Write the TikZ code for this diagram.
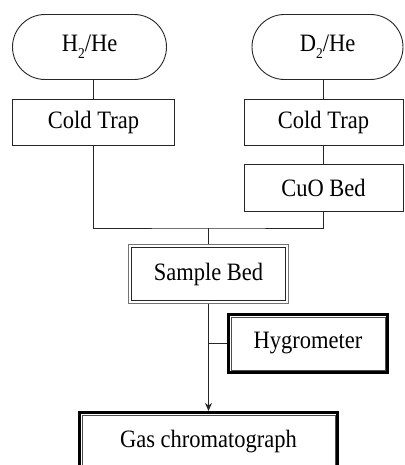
\documentclass[tikz,border=0pt]{standalone}
\usepackage{fontspec}
\setmainfont{Liberation Serif}
\usetikzlibrary{arrows.meta}
\newcommand{\tx}[1]{\scalebox{0.9}[1]{#1}}
\newcommand{\sbs}[1]{\raisebox{-0.28em}{\fontsize{15}{15}\selectfont #1}}
\tikzset{
  base/.style={draw=black!85, line width=0.9pt, inner sep=0pt, font=\fontsize{25}{30}\selectfont, text=black},
  stadium/.style={base, rectangle, rounded corners=32.5pt, minimum height=65pt},
  plainbox/.style={base, rectangle},
  heavybox/.style={base, draw=black, line width=2.6pt},
  conn/.style={draw=black!85, line width=0.9pt},
  inner/.style={draw=black!70, line width=0.8pt},
}
\begin{document}
\begin{tikzpicture}[x=1pt,y=1pt]
\useasboundingbox (0,0) rectangle (404,465);
% sources
\node[stadium, minimum width=154pt] (h2) at (89.5,418) {\tx{H\sbs{2}/He}};
\node[stadium, minimum width=151pt] (d2) at (327.5,418) {\tx{D\sbs{2}/He}};
% traps
\node[plainbox, minimum width=162pt, minimum height=46pt] (ct1) at (93.5,342.5) {\tx{Cold Trap}};
\node[plainbox, minimum width=159pt, minimum height=46pt] (ct2) at (323.5,342.5) {\tx{Cold Trap}};
\node[plainbox, minimum width=159pt, minimum height=47pt] (cuo) at (323.5,277.5) {\tx{CuO Bed}};
% sample bed (double border)
\node[plainbox, draw=black!55, minimum width=160pt, minimum height=59pt] (sample) at (208.5,191) {\tx{Sample Bed}};
\draw[inner, draw=black!85] ([shift={(3.2,3.2)}]sample.south west) rectangle ([shift={(-3.2,-3.2)}]sample.north east);
% hygrometer
\node[heavybox, minimum width=159.5pt, minimum height=58.5pt] (hyg) at (308,121.5) {\tx{Hygrometer}};
\draw[inner] ([shift={(4,4)}]hyg.south west) rectangle ([shift={(-4,-4)}]hyg.north east);
% gas chromatograph
\node[heavybox, minimum width=258.5pt, minimum height=59.5pt] (gc) at (208.5,23) {\tx{Gas chromatograph}};
\draw[inner] ([shift={(4,4)}]gc.south west) rectangle ([shift={(-4,-4)}]gc.north east);
% connectors
\draw[conn] (ct1.north) -- (ct1.north |- h2.south);
\draw[conn] (ct2.north) -- (ct2.north |- d2.south);
\draw[conn] (ct2.south) -- (cuo.north);
\coordinate (jn) at (208.5,237);
\draw[conn] (ct1.south) |- (jn) -| (cuo.south);
\draw[conn] (jn) -- (sample.north);
\draw[conn, -{Stealth[length=8pt,width=7pt]}] (sample.south) -- (gc.north);
\coordinate (hj) at (sample.south |- hyg.west);
\draw[conn] (hyg.west) -- (hj);
\end{tikzpicture}
\end{document}
